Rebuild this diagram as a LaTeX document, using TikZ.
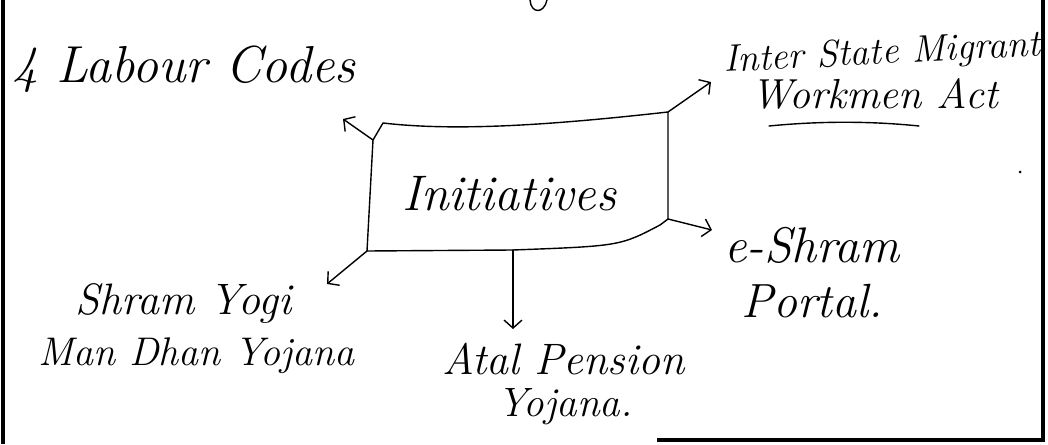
\documentclass[tikz,border=0pt]{standalone}
\usetikzlibrary{arrows.meta}
\newcommand{\hwsize}[1]{\fontsize{#1}{#1}\selectfont\itshape}
\begin{document}
\begin{tikzpicture}[x=1pt,y=-1pt,
  ink/.style={line width=1.4pt, line cap=round, line join=round},
  conn/.style={ink, -{Straight Barb[length=8pt,width=18pt,line width=1.4pt]}},
  lbl/.style={inner sep=0pt, anchor=base west},
  border/.style={line width=4pt}]
\useasboundingbox (0,0) rectangle (1048,444);
% page borders
\draw[border] (3,0) -- (3,444);
\draw[border] (1043,0) -- (1043,440) -- (657,440);
% stray marks
\draw[ink] (530,0) .. controls (531,14) and (544,14) .. (547,0);
\fill (1020,172) circle (1.5pt);
% central box
\coordinate (tl) at (373,140);
\coordinate (tlk) at (383,123);
\coordinate (tr) at (668,112);
\coordinate (rb) at (668,219);
\coordinate (br) at (660,225);
\coordinate (bm) at (513,250);
\coordinate (bl) at (367,251);
\draw[ink] (tl) -- (tlk) .. controls (460,132) and (560,124) .. (tr) -- (rb) -- (br)
  .. controls (620,246) .. (bm) -- (bl) -- cycle;
\node[lbl, font=\hwsize{50}] (init) at (402,210) {Initiatives};
% labels
\node[lbl, font=\hwsize{52}] (codes) at (12,82) {4 Labour Codes};
\begin{scope}
  \clip (0,0) rectangle (1041,444);
  \node[lbl, font=\hwsize{38}, rotate=3] (mig1) at (724,72) {Inter State Migrant};
\end{scope}
\node[lbl, font=\hwsize{42}] (mig2) at (751,108) {Workmen Act};
\coordinate (ulA) at (769,126);
\coordinate (ulB) at (919,126);
\draw[ink] (ulA) .. controls (820,121) and (870,121) .. (ulB);
\node[lbl, font=\hwsize{50}] (esh1) at (724,262) {e-Shram};
\node[lbl, font=\hwsize{48}] (esh2) at (741,317) {Portal.};
\node[lbl, font=\hwsize{44}] (yogi1) at (75,314) {Shram Yogi};
\node[lbl, font=\hwsize{40}] (yogi2) at (38,365) {Man Dhan Yojana};
\node[lbl, font=\hwsize{44}] (atal1) at (442,374) {Atal Pension};
\node[lbl, font=\hwsize{41}] (atal2) at (497,416) {Yojana.};
% connectors
\coordinate (codesT) at (343,119);
\coordinate (migT) at (711,82);
\coordinate (eshT) at (712,230);
\coordinate (atalT) at (513,329);
\coordinate (yogiT) at (327,284);
\draw[conn] (tl) -- (codesT);
\draw[conn] (tr) -- (migT);
\draw[conn] (rb) -- (eshT);
\draw[conn] (bm) -- (atalT);
\draw[conn] (bl) -- (yogiT);
\end{tikzpicture}
\end{document}
